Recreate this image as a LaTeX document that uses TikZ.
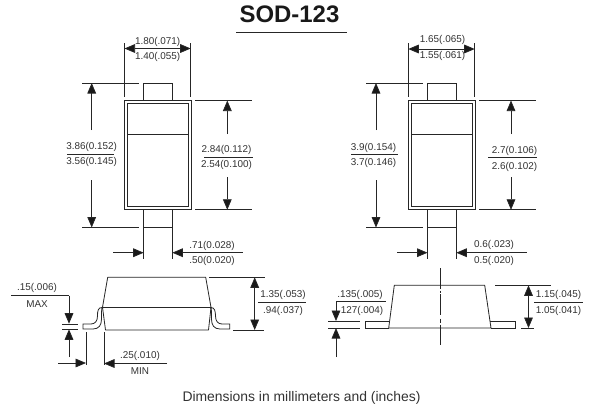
\documentclass[tikz,border=0pt]{standalone}
\usepackage{fontspec}
\setmainfont{Liberation Sans}
\usetikzlibrary{arrows.meta}
\tikzset{
  line/.style={draw=black!85,line width=0.8pt},
  thick line/.style={draw=black!85,line width=1pt},
  dim/.style={draw=black!85,line width=0.75pt},
  tip/.style={-{Triangle[length=10.5pt,width=8.7pt,fill=black!90]}},
  both/.style={{Triangle[length=10.5pt,width=8.7pt,fill=black!90]}-{Triangle[length=10.5pt,width=8.7pt,fill=black!90]}},
  lab/.style={font=\fontsize{9.9}{11}\selectfont,text=black!80,inner sep=0pt,anchor=center},
}
\begin{document}
\begin{tikzpicture}[x=1pt,y=-1pt]
\useasboundingbox (0,0) rectangle (594,408);
\fill[white] (0,0) rectangle (594,408);
% title
\node[inner sep=0pt,font=\bfseries\fontsize{23.9}{26}\selectfont,text=black!90] (title) at (289.5,14.5) {SOD-123};
\draw[line] (236,32.5) -- (347,32.5);
\node[lab,font=\fontsize{13.9}{15}\selectfont] (foot) at (301.5,398) {Dimensions in millimeters and (inches)};
% ---------- top-left
\draw[thick line] (124.7,100.3) rectangle (191,209.7);
\draw[thick line] (127.5,103.3) rectangle (188.5,206.7);
\draw[line] (127.5,134) -- (188.5,134);
\draw[line] (143.7,100.3) -- (143.7,83.7) -- (172.3,83.7) -- (172.3,100.3);
\draw[line] (143.7,209.7) -- (143.7,227.3) -- (172.3,227.3) -- (172.3,209.7);
\draw[dim] (124.5,43) -- (124.5,97);
\draw[dim] (190.7,43) -- (190.7,97);
\draw[dim,both] (124.5,48.5) -- (190.7,48.5);
\node[lab] (a1) at (157.7,41.5) {1.80(.071)};
\node[lab] (a2) at (157.7,56.5) {1.40(.055)};
\draw[dim] (82,83) -- (139,83);
\draw[dim] (82,227.5) -- (139,227.5);
\draw[dim,tip] (91.7,130) -- (91.7,83);
\draw[dim,tip] (91.7,180) -- (91.7,227.5);
\node[lab] (b1) at (91.7,146.5) {3.86(0.152)};
\draw[dim] (67,154) -- (114,154);
\node[lab] (b2) at (91.7,161.5) {3.56(0.145)};
\draw[dim] (195,100.5) -- (252,100.5);
\draw[dim] (195,209.8) -- (252,209.8);
\draw[dim,tip] (227.3,134) -- (227.3,100.5);
\draw[dim,tip] (227.3,177) -- (227.3,209.8);
\node[lab] (c1) at (226.5,149.5) {2.84(0.112)};
\draw[dim] (204,157.7) -- (253,157.7);
\node[lab] (c2) at (226.5,164.5) {2.54(0.100)};
\draw[dim] (143.7,227.3) -- (143.7,259);
\draw[dim] (172.3,227.3) -- (172.3,259);
\draw[dim,tip] (113,252.7) -- (143.7,252.7);
\draw[dim,tip] (242.7,252.7) -- (172.3,252.7);
\node[lab] (d1) at (212,245.5) {.71(0.028)};
\node[lab] (d2) at (212,260.5) {.50(0.020)};
% ---------- bottom-left
\draw[line,line join=round] (102.5,307.3) -- (107.7,277.3) -- (205.7,277.3) -- (211,307.3) -- (208.5,330) -- (105.5,330) -- cycle;
\draw[line] (102.5,307.3) -- (211,307.3);
\draw[line] (102,307.5) .. controls (98,307.5) and (97.5,311) .. (97.5,316) .. controls (97.5,321) and (95,324) .. (91,324) -- (83,324) -- (83,329) -- (93,329) .. controls (99,329) and (101.5,325) .. (101.5,319) -- (101.5,312) .. controls (101.5,309) and (102,308) .. (103,307.5);
\draw[line] (211,307.5) .. controls (214.5,307.5) and (215.5,311) .. (215.5,316) .. controls (215.5,321) and (218,324) .. (222,324) -- (229.7,324) -- (229.7,329) -- (220,329) .. controls (214,329) and (211.5,325) .. (211.5,319) -- (211.5,312) .. controls (211.5,309) and (211,308) .. (210.5,307.5);
\node[lab] (e1) at (37,288) {.15(.006)};
\draw[dim] (11,295.7) -- (69,295.7);
\draw[dim,tip] (69,295.7) -- (69,323.7);
\node[lab] (e2) at (37,304) {MAX};
\draw[dim] (62,324) -- (78,324);
\draw[dim] (62,329) -- (78,329);
\draw[dim,tip] (69,357) -- (69,329.3);
\draw[dim,tip] (58,363) -- (86,363);
\draw[dim] (86,332) -- (86,365);
\draw[dim] (104,332) -- (104,365);
\draw[dim,tip] (167,363.5) -- (104,363.5);
\node[lab] (f1) at (140,356) {.25(.010)};
\node[lab] (f2) at (140,371) {MIN};
\draw[dim] (209,277.3) -- (265,277.3);
\draw[dim] (233,330) -- (264,330);
\draw[dim,both] (254.7,277.3) -- (254.7,330);
\node[lab] (g1) at (283,295) {1.35(.053)};
\draw[dim] (258,302) -- (306,302);
\node[lab] (g2) at (283,311) {.94(.037)};
% ---------- top-right
\draw[thick line] (408.5,100.3) rectangle (475,209.7);
\draw[thick line] (411.3,103.3) rectangle (472.8,206.7);
\draw[line] (411.3,134) -- (472.8,134);
\draw[line] (427.5,100.3) -- (427.5,83.7) -- (456.3,83.7) -- (456.3,100.3);
\draw[line] (427.5,209.7) -- (427.5,227.3) -- (456.3,227.3) -- (456.3,209.7);
\draw[dim] (408.3,43) -- (408.3,97);
\draw[dim] (474.7,43) -- (474.7,97);
\draw[dim,both] (408.3,49) -- (474.7,49);
\node[lab] (h1) at (442.5,39.5) {1.65(.065)};
\node[lab] (h2) at (442.5,56) {1.55(.061)};
\draw[dim] (366,83) -- (423,83);
\draw[dim] (366,227.5) -- (423,227.5);
\draw[dim,tip] (376,130) -- (376,83);
\draw[dim,tip] (376,180) -- (376,227.5);
\node[lab] (i1) at (373.5,147.5) {3.9(0.154)};
\draw[dim] (351,154) -- (398,154);
\node[lab] (i2) at (373.5,162.5) {3.7(0.146)};
\draw[dim] (479,100.5) -- (536,100.5);
\draw[dim] (479,209.8) -- (536,209.8);
\draw[dim,tip] (511,134) -- (511,100.5);
\draw[dim,tip] (511,177) -- (511,209.8);
\node[lab] (j1) at (514.5,151) {2.7(0.106)};
\draw[dim] (488,157.7) -- (537,157.7);
\node[lab] (j2) at (514.5,167) {2.6(0.102)};
\draw[dim] (427.5,227.3) -- (427.5,259);
\draw[dim] (456.3,227.3) -- (456.3,259);
\draw[dim,tip] (397,252.7) -- (427.5,252.7);
\draw[dim,tip] (526.7,252.7) -- (456.3,252.7);
\node[lab] (k1) at (494,244.5) {0.6(.023)};
\node[lab] (k2) at (494,260.5) {0.5(.020)};
% ---------- bottom-right
\draw[line,line join=round] (388.7,328) -- (394.3,285.3) -- (484.7,285.3) -- (491,328) -- cycle;
\draw[line] (389.5,321.5) -- (365.3,321.5) -- (365.3,328) -- (388.7,328);
\draw[line] (490,321.5) -- (515.3,321.5) -- (515.3,328) -- (491,328);
\draw[line] (440.7,268) -- (440.7,289.3) (440.7,290.5) -- (440.7,292.7) (440.7,294.3) -- (440.7,315.3) (440.7,318.7) -- (440.7,322.7) (440.7,324.5) -- (440.7,345);
\node[lab] (l1) at (360,295) {.135(.005)};
\draw[dim] (336,301) -- (385.7,301);
\draw[dim,tip] (336,301) -- (336,321);
\node[lab] (l2) at (362,311) {127(.004)};
\draw[dim] (328,321.3) -- (360,321.3);
\draw[dim] (328,328) -- (360,328);
\draw[dim,tip] (336,357) -- (336,328);
\draw[dim] (495,285.3) -- (551,285.3);
\draw[dim] (521,328) -- (534,328);
\draw[dim,both] (528.5,285.3) -- (528.5,328);
\node[lab] (m1) at (558.5,295) {1.15(.045)};
\draw[dim] (534,302) -- (583,302);
\node[lab] (m2) at (558.5,311) {1.05(.041)};
\end{tikzpicture}
\end{document}
